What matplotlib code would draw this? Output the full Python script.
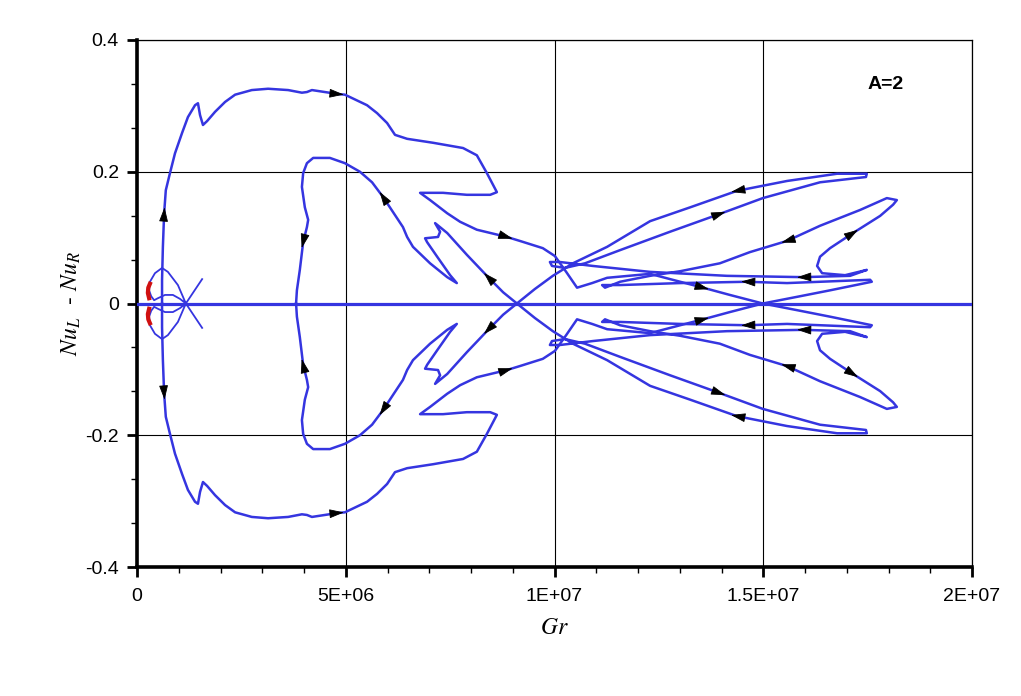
import numpy as np
import matplotlib
matplotlib.use('Agg')
import matplotlib.pyplot as plt

plt.rcParams['font.family'] = ['Liberation Sans', 'DejaVu Sans']
plt.rcParams['mathtext.fontset'] = 'stix'

# Gr values in millions, Nu_L - Nu_R values; upper half of each branch
# (the diagram is symmetric, the lower half is the mirror image)
outer_gr = [0.60, 0.60, 0.62, 0.65, 0.69, 0.79, 0.91, 1.08, 1.22, 1.39, 1.46, 1.51, 1.58, 1.68,
            1.87, 2.11, 2.35, 2.75, 3.14, 3.62, 3.95, 4.07, 4.19, 4.50, 4.81, 4.98, 5.51, 5.75,
            5.99, 6.18, 6.47, 7.09, 7.81, 8.14, 8.38, 8.62, 8.46, 7.90, 7.33, 6.78, 7.02, 7.43,
            7.74, 8.14, 8.86, 9.17, 9.72, 10.01, 10.28, 10.54, 10.90, 11.26, 12.29, 13.01,
            13.56, 14.20, 14.99]
outer_nu = [0.0, 0.036, 0.086, 0.137, 0.172, 0.198, 0.228, 0.259, 0.283, 0.301, 0.304, 0.286,
            0.271, 0.277, 0.291, 0.306, 0.317, 0.324, 0.326, 0.324, 0.320, 0.321, 0.324, 0.321,
            0.318, 0.317, 0.301, 0.289, 0.274, 0.256, 0.250, 0.244, 0.236, 0.225, 0.198, 0.169,
            0.165, 0.165, 0.168, 0.168, 0.157, 0.137, 0.124, 0.112, 0.101, 0.095, 0.084, 0.072,
            0.048, 0.024, 0.031, 0.039, 0.045, 0.033, 0.024, 0.013, 0.0]

middle_gr = [3.81, 3.83, 3.90, 3.98, 4.07, 4.10, 4.02, 3.95, 3.98, 4.07, 4.22, 4.62, 4.98, 5.34,
             5.63, 5.89, 6.13, 6.37, 6.47, 6.61, 7.02, 7.43, 7.66, 7.50, 7.19, 6.95, 6.90, 7.21,
             7.26, 7.14, 7.43, 7.90, 8.41, 8.77, 9.10]
middle_nu = [0.0, 0.020, 0.051, 0.093, 0.116, 0.127, 0.146, 0.177, 0.198, 0.213, 0.221, 0.221,
             0.213, 0.200, 0.184, 0.162, 0.139, 0.116, 0.101, 0.086, 0.061, 0.040, 0.031, 0.043,
             0.071, 0.093, 0.099, 0.101, 0.109, 0.122, 0.107, 0.074, 0.040, 0.017, 0.0]

finger_gr = [9.10, 9.53, 9.96, 10.44, 11.26, 12.29, 13.25, 14.37, 15.57, 16.77, 17.48, 17.46,
             16.36, 14.99, 13.96, 12.77, 11.57, 10.73, 10.25, 9.94, 9.89, 10.13, 10.92, 12.29,
             14.13, 15.95, 17.08, 17.48, 16.96, 16.41, 16.29, 16.36, 16.60, 17.15, 17.80, 18.11,
             18.20, 17.96, 17.32, 16.36, 15.57, 14.68, 13.96, 13.01, 12.29, 11.57, 11.21, 11.14,
             11.57, 13.01, 14.61, 15.57, 17.56, 17.60, 16.60, 15.88, 14.99]
finger_nu = [0.0, 0.022, 0.042, 0.061, 0.086, 0.125, 0.146, 0.171, 0.186, 0.197, 0.197, 0.192,
             0.184, 0.160, 0.136, 0.109, 0.081, 0.061, 0.054, 0.057, 0.063, 0.063, 0.057, 0.048,
             0.042, 0.040, 0.042, 0.051, 0.043, 0.046, 0.057, 0.071, 0.084, 0.107, 0.133, 0.150,
             0.157, 0.160, 0.142, 0.118, 0.095, 0.078, 0.061, 0.049, 0.042, 0.033, 0.024, 0.028,
             0.028, 0.031, 0.033, 0.031, 0.036, 0.033, 0.020, 0.011, 0.0]

small_gr = [1.56, 1.37, 1.17, 1.03, 0.86, 0.67, 0.50, 0.41, 0.34, 0.29, 0.31, 0.43, 0.60, 0.74,
            0.98, 1.17]
small_nu = [0.037, 0.019, 0.0, 0.007, 0.013, 0.013, 0.008, 0.005, 0.011, 0.020, 0.033, 0.046,
            0.054, 0.048, 0.028, 0.0]

red_gr = [0.31, 0.27, 0.26, 0.29]
red_nu = [0.030, 0.024, 0.016, 0.008]

base_gr = [0.0, 20.0]
base_nu = [0.0, 0.0]

# arrows: branch, Gr (millions), Nu, +1 along the listed order / -1 against it
arrows = [
    ('outer', 0.65, 0.137, 1), ('outer', 4.81, 0.318, 1), ('outer', 8.86, 0.101, 1),
    ('outer', 13.56, 0.024, 1),
    ('middle', 3.98, 0.093, -1), ('middle', 5.89, 0.162, -1), ('middle', 8.41, 0.040, -1),
    ('finger', 14.37, 0.171, -1), ('finger', 13.96, 0.136, -1), ('finger', 15.57, 0.095, 1),
    ('finger', 17.15, 0.107, 1), ('finger', 15.95, 0.040, -1), ('finger', 14.61, 0.033, -1),
]

blue = '#3535e0'
scale = 1e6

fig = plt.figure(figsize=(10.21, 6.96), dpi=100)
ax = fig.add_axes([137 / 1021, 1 - 567 / 696, 835 / 1021, 527 / 696])

branches = {'outer': (outer_gr, outer_nu), 'middle': (middle_gr, middle_nu),
            'finger': (finger_gr, finger_nu), 'small': (small_gr, small_nu)}

ax.plot(np.array(base_gr) * scale, base_nu, color=blue, lw=2.3, zorder=3)
for name, (g, n) in branches.items():
    g = np.array(g) * scale
    n = np.array(n)
    lw = 1.3 if name == 'small' else 1.8
    ax.plot(g, n, color=blue, lw=lw, zorder=3)
    ax.plot(g, -n, color=blue, lw=lw, zorder=3)
for sgn in (1, -1):
    ax.plot(np.array(red_gr) * scale, sgn * np.array(red_nu), color='#d01010', lw=3, zorder=4)

ax.set_xlim(0, 2e7)
ax.set_ylim(-0.4, 0.4)

# arrow heads along the branches
fig.canvas.draw()
for name, ag, an, d in arrows:
    g, n = branches[name]
    for sgn in (1, -1):
        pts = ax.transData.transform(np.column_stack([np.array(g) * scale, sgn * np.array(n)]))
        p = ax.transData.transform((ag * scale, sgn * an))
        i = int(np.argmin(np.hypot(*(pts - p).T)))
        i = min(i, len(pts) - 2)
        seg = pts[i + 1] - pts[i]
        if np.hypot(*seg) < 1e-6:
            continue
        u = d * seg / np.hypot(*seg)
        tip = ax.transData.inverted().transform(p + 6 * u)
        tail = ax.transData.inverted().transform(p - 6 * u)
        ax.annotate('', xy=tip, xytext=tail,
                    arrowprops=dict(arrowstyle='-|>,head_length=0.9,head_width=0.28',
                                    mutation_scale=10, color='black', lw=0.6,
                                    shrinkA=0, shrinkB=0), zorder=5)

ax.set_xticks([0, 5e6, 1e7, 1.5e7, 2e7])
ax.set_xticklabels(['0', '5E+06', '1E+07', '1.5E+07', '2E+07'])
ax.set_xticks(np.arange(0, 2.01e7, 1e6), minor=True)
ax.set_yticks([-0.4, -0.2, 0, 0.2, 0.4])
ax.set_yticklabels(['-0.4', '-0.2', '0', '0.2', '0.4'])
ax.set_yticks(np.linspace(-0.4, 0.4, 13), minor=True)
ax.tick_params(which='major', direction='out', length=7, width=2, labelsize=14, colors='black')
ax.tick_params(which='minor', direction='out', length=4, width=1)
ax.tick_params(axis='x', pad=8)
ax.tick_params(axis='y', pad=6)

ax.grid(True, which='major', color='black', lw=0.8, zorder=1)
ax.set_axisbelow(True)
for s in ['left', 'bottom']:
    ax.spines[s].set_linewidth(2.6)
for s in ['top', 'right']:
    ax.spines[s].set_linewidth(0.9)

ax.set_xlabel(r'$Gr$', fontsize=17)
ax.xaxis.set_label_coords(0.5, -0.095)
ax.set_ylabel(r'$Nu_L$  - $Nu_R$', fontsize=17)
ax.yaxis.set_label_coords(-0.065, 0.5)

ax.text(17.92e6, 0.332, 'A=2', fontsize=14, fontweight='bold', ha='center', va='center')

fig.savefig('out.png', dpi=100)
